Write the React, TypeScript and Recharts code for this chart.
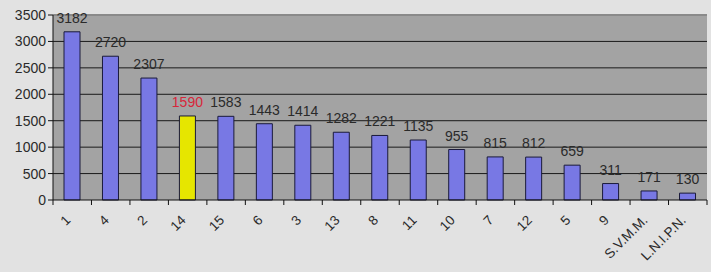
import React from 'react';
import {
  BarChart, Bar, XAxis, YAxis, CartesianGrid, Cell, LabelList, ReferenceLine
} from 'recharts';

const categories = ['1', '4', '2', '14', '15', '6', '3', '13', '8', '11', '10', '7', '12', '5', '9', 'S.V.M.M.', 'L.N.I.P.N.'];
const values = [3182, 2720, 2307, 1590, 1583, 1443, 1414, 1282, 1221, 1135, 955, 815, 812, 659, 311, 171, 130];
const yTicks = [0, 500, 1000, 1500, 2000, 2500, 3000, 3500];
const highlight = '14';

const data = categories.map((name, i) => ({ name, value: values[i] }));

const WIDTH = 711;
const HEIGHT = 272;
const MARGIN = { top: 15, right: 4, left: 0, bottom: 0 };
const Y_WIDTH = 53;
const BAND = (WIDTH - MARGIN.right - Y_WIDTH) / categories.length;

const FONT = '"Liberation Sans", Arial, sans-serif';

const XTick = (props: any) => {
  const { x, y, payload, index } = props;
  const last = index === categories.length - 1;
  return (
    <g>
      <line x1={x - BAND / 2} x2={x - BAND / 2} y1={y - 8} y2={y - 3} stroke="#111" />
      {last && <line x1={x + BAND / 2} x2={x + BAND / 2} y1={y - 8} y2={y - 3} stroke="#111" />}
      <text
        x={x - 1}
        y={y + 13}
        transform={`rotate(-45 ${x - 1} ${y + 13})`}
        textAnchor="end"
        fontSize={13.5}
        fontFamily={FONT}
        fill="#2a2a2a"
      >
        {payload.value}
      </text>
    </g>
  );
};

const ValueLabel = (props: any) => {
  const { x, y, width, value, index } = props;
  const red = categories[index] === highlight;
  return (
    <text
      x={x + width / 2}
      y={y - 9}
      textAnchor="middle"
      fontSize={14}
      fontFamily={FONT}
      fill={red ? '#d8263a' : '#2a2a2a'}
    >
      {value}
    </text>
  );
};

export default function App() {
  return (
    <div style={{ position: 'absolute', left: 0, top: 0, width: WIDTH, height: HEIGHT, background: '#e2e2e2' }}>
      <BarChart width={WIDTH} height={HEIGHT} data={data} margin={MARGIN} barSize={16}>
        <CartesianGrid
          vertical={false}
          fill="#a3a3a3"
          stroke="#1a1a1a"
          horizontalValues={[500, 1000, 1500, 2000, 2500, 3000]}
        />
        <ReferenceLine y={3500} stroke="#8a8a8a" strokeWidth={2} />
        <XAxis
          dataKey="name"
          interval={0}
          height={72}
          tickLine={false}
          axisLine={{ stroke: '#111' }}
          tick={<XTick />}
        />
        <YAxis
          width={Y_WIDTH}
          domain={[0, 3500]}
          ticks={yTicks}
          interval={0}
          tickSize={5}
          tickLine={{ stroke: '#111' }}
          axisLine={{ stroke: '#111' }}
          tick={{ fill: '#2a2a2a', fontSize: 14, fontFamily: FONT }}
        />
        <Bar dataKey="value" stroke="#1a1a3a" strokeWidth={1} isAnimationActive={false}>
          {data.map(d => (
            <Cell key={d.name} fill={d.name === highlight ? '#e6e600' : '#7878e4'} />
          ))}
          <LabelList dataKey="value" content={<ValueLabel />} />
        </Bar>
      </BarChart>
    </div>
  );
}
